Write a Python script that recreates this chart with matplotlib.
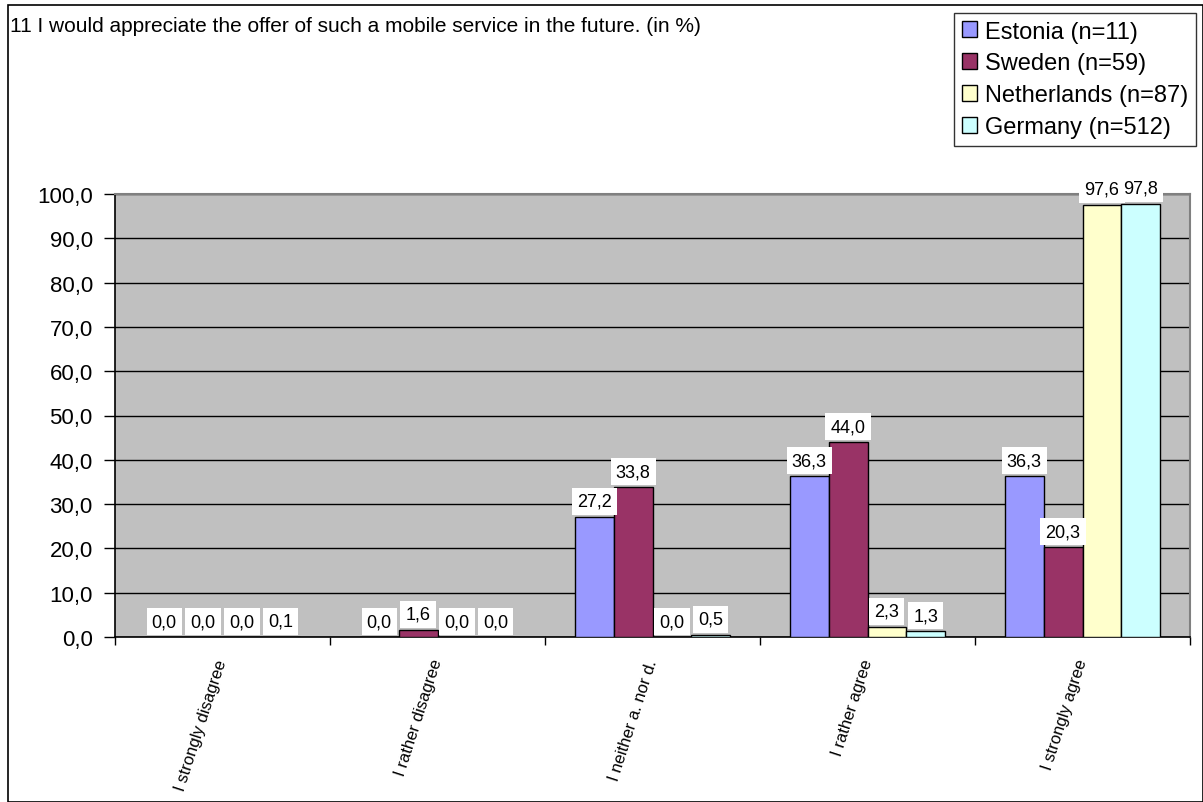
import numpy as np
import matplotlib
matplotlib.use("Agg")
import matplotlib.pyplot as plt
from matplotlib.patches import Rectangle

plt.rcParams['font.family'] = ['Liberation Sans', 'DejaVu Sans']

title = "11 I would appreciate the offer of such a mobile service in the future. (in %)"
categories = ["I strongly disagree", "I rather disagree", "I neither a. nor d.",
              "I rather agree", "I strongly agree"]
series_names = ["Estonia (n=11)", "Sweden (n=59)", "Netherlands (n=87)", "Germany (n=512)"]
estonia = [0.0, 0.0, 27.2, 36.3, 36.3]
sweden = [0.0, 1.6, 33.8, 44.0, 20.3]
netherlands = [0.0, 0.0, 0.0, 2.3, 97.6]
germany = [0.1, 0.0, 0.5, 1.3, 97.8]
colors = ["#9999FF", "#993366", "#FFFFCC", "#CCFFFF"]

series = [estonia, sweden, netherlands, germany]

fig = plt.figure(figsize=(12.03, 8.03), dpi=100)
ax = fig.add_axes([115/1203, 1-638/803, (1190-115)/1203, (638-195)/803])
ax.set_facecolor("#C0C0C0")

x = np.arange(len(categories)) + 0.5
w = 0.181
for i, (vals, name, col) in enumerate(zip(series, series_names, colors)):
    b = ax.bar(x + (i - 1.5)*w, vals, w, color=col, edgecolor="black", linewidth=1,
               label=name, zorder=3)
    for rect, v in zip(b, vals):
        ax.annotate(f"{v:.1f}".replace(".", ","),
                    (rect.get_x() + rect.get_width()/2, rect.get_height()),
                    xytext=(0, 5), textcoords="offset points",
                    ha="center", va="bottom", fontsize=13, zorder=5,
                    bbox=dict(boxstyle="square,pad=0.28", fc="white", ec="none"))

ax.set_xlim(0, len(categories))
ax.set_ylim(0, 100)
ax.set_yticks(np.arange(0, 101, 10))
ax.set_yticklabels([f"{t:.1f}".replace(".", ",") for t in np.arange(0, 101, 10)], fontsize=16)
ax.yaxis.grid(True, color="black", linewidth=1, zorder=1)
ax.set_axisbelow(True)
ax.tick_params(axis="y", length=8, width=1, pad=8)

ax.set_xticks(x)
ax.set_xticklabels(categories, rotation=72, ha="right", va="center",
                   rotation_mode="anchor", fontsize=12)
ax.tick_params(axis="x", which="major", length=0, pad=16)
ax.set_xticks(np.arange(0, len(categories)+1), minor=True)
ax.tick_params(axis="x", which="minor", length=6, width=1, direction="out")

for s in ["top", "right"]:
    ax.spines[s].set_color("#808080")
    ax.spines[s].set_linewidth(1.5)
for s in ["left", "bottom"]:
    ax.spines[s].set_color("black")
    ax.spines[s].set_linewidth(1.2)

fig.text(10/1203, 1-26/803, title, fontsize=15, ha="left", va="center")

leg = fig.legend(loc="upper right", bbox_to_anchor=(1196/1203, 1-14/803),
                 fontsize=17, frameon=True, fancybox=False, handlelength=0.65,
                 handleheight=0.65, handletextpad=0.35, labelspacing=0.42,
                 borderpad=0.32, borderaxespad=0)
leg.get_frame().set_edgecolor("black")
leg.get_frame().set_linewidth(1)

fig.patches.append(Rectangle((8/1203, 0.5/803), 1-8.5/1203, 1-6.5/803,
                             transform=fig.transFigure, fill=False,
                             edgecolor="black", linewidth=1.2))

fig.savefig("out.png", dpi=100)
